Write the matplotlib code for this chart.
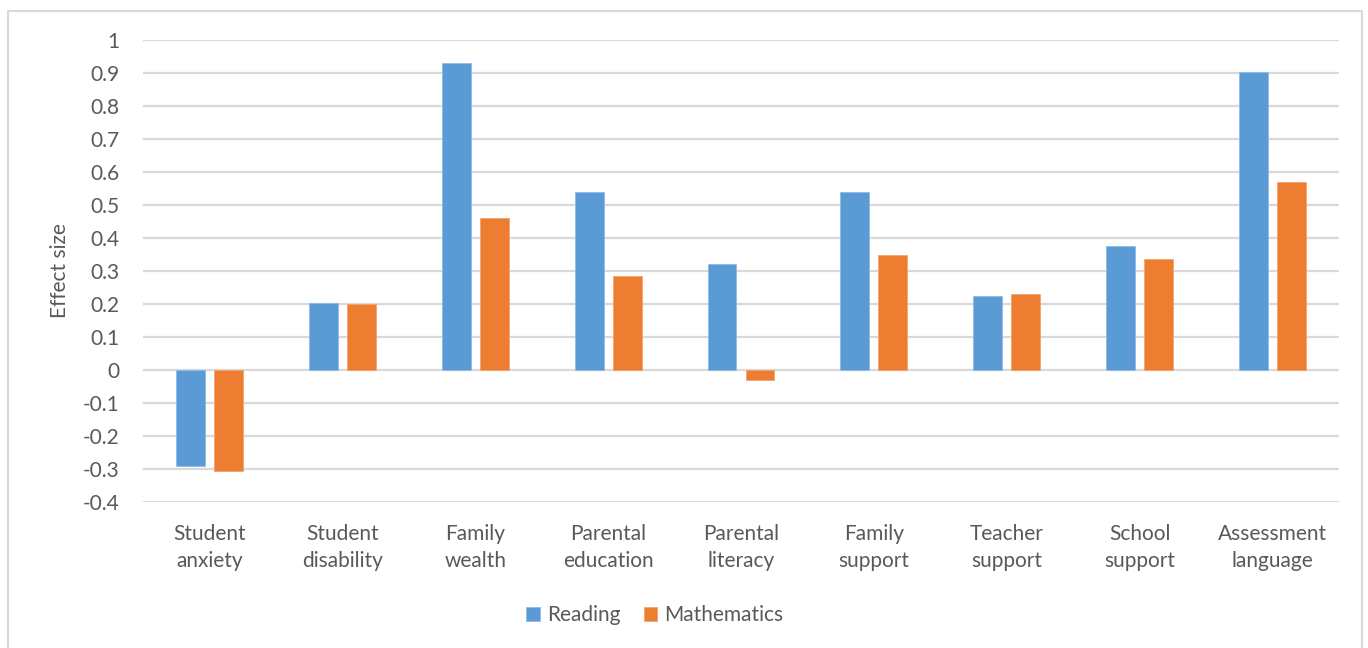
import numpy as np
import matplotlib
matplotlib.use('Agg')
import matplotlib.pyplot as plt
from matplotlib.patches import Rectangle

categories = ['Student\nanxiety', 'Student\ndisability', 'Family\nwealth', 'Parental\neducation',
              'Parental\nliteracy', 'Family\nsupport', 'Teacher\nsupport', 'School\nsupport',
              'Assessment\nlanguage']
reading = [-0.29, 0.204, 0.93, 0.54, 0.32, 0.54, 0.223, 0.375, 0.903]
maths = [-0.307, 0.20, 0.46, 0.286, -0.031, 0.347, 0.231, 0.336, 0.569]
yticks = [-0.4, -0.3, -0.2, -0.1, 0, 0.1, 0.2, 0.3, 0.4, 0.5, 0.6, 0.7, 0.8, 0.9, 1]
ytick_labels = ['-0.4', '-0.3', '-0.2', '-0.1', '0', '0.1', '0.2', '0.3', '0.4', '0.5',
                '0.6', '0.7', '0.8', '0.9', '1']

blue = '#5B9BD5'
orange = '#ED7D31'
grey_text = '#595959'
grid_col = '#D9D9D9'

plt.rcParams['font.family'] = ['Lato', 'DejaVu Sans']

W, H = 1368, 648
fig = plt.figure(figsize=(W / 100, H / 100), dpi=100)
ax = fig.add_axes([143 / W, 1 - 502 / H, (1339 - 143) / W, (502 - 40) / H])

x = np.arange(len(categories))
bw = 0.218
off = 0.143
ax.bar(x - off, reading, bw, color=blue, edgecolor='#8FBBE6', linewidth=0.6, label='Reading', zorder=3)
ax.bar(x + off, maths, bw, color=orange, edgecolor='#F4A36F', linewidth=0.6, label='Mathematics', zorder=3)

ax.set_xlim(-0.5, len(categories) - 0.5)
ax.set_ylim(-0.4, 1)
ax.set_yticks(yticks)
ax.set_yticklabels(ytick_labels)
ax.set_xticks(x)
ax.set_xticklabels(categories, linespacing=1.45)
ax.tick_params(axis='both', length=0, labelsize=15, colors=grey_text)
ax.tick_params(axis='y', pad=17)
ax.tick_params(axis='x', pad=16)
ax.grid(axis='y', color=grid_col, linewidth=1.6, zorder=0)
for s in ax.spines.values():
    s.set_visible(False)

fig.text(60 / W, 1 - 271 / H, 'Effect size', rotation=90, ha='center', va='center',
         fontsize=15, color=grey_text)

leg = fig.legend(loc='center', bbox_to_anchor=(655 / W, 1 - 615 / H), ncol=2, frameon=False,
                 fontsize=15, handlelength=0.65, handleheight=0.65, handletextpad=0.35,
                 columnspacing=1.1, labelcolor=grey_text)

fig.patches.append(Rectangle((8 / W, -0.01), (1362 - 8) / W, 1 - 11 / H + 0.01,
                             transform=fig.transFigure, fill=False, edgecolor=grid_col,
                             linewidth=1.5))

fig.savefig('out.png', dpi=100)
